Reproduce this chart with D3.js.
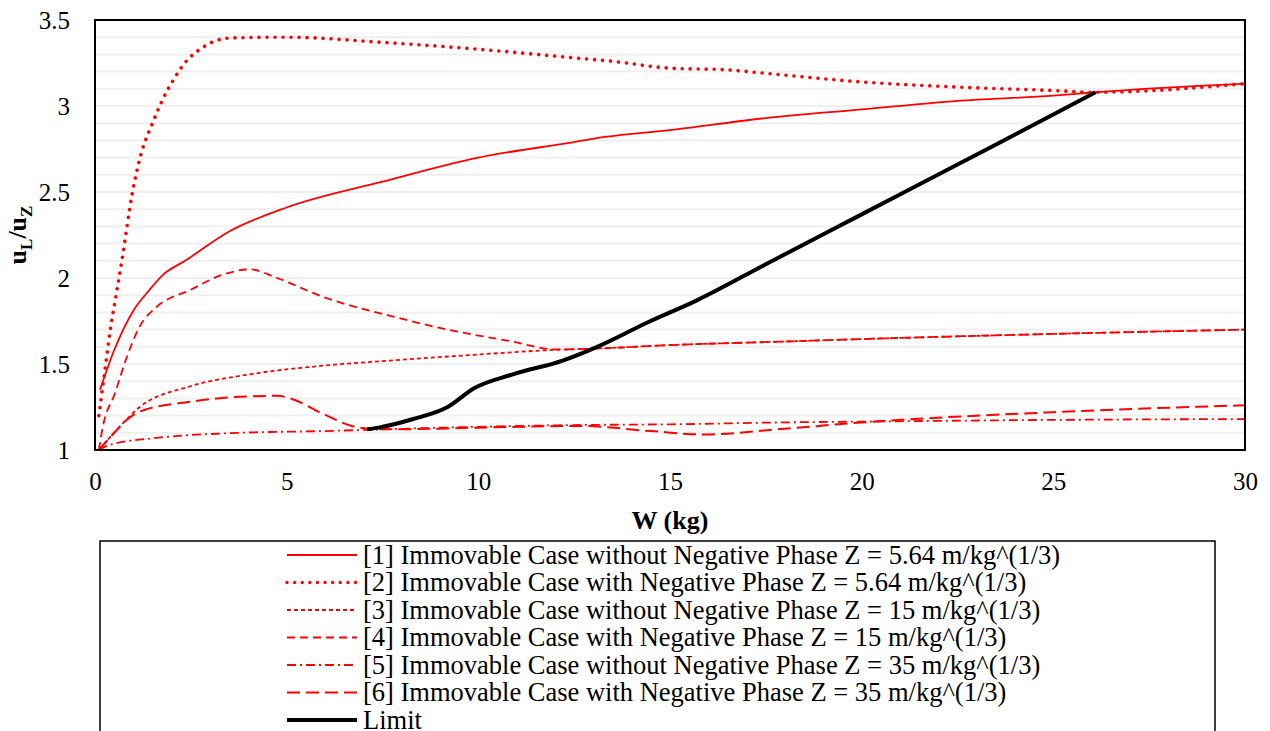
<!DOCTYPE html>
<html>
<head>
<meta charset="utf-8">
<script src="https://cdn.jsdelivr.net/npm/d3@7"></script>
<style>
  body { margin: 0; background: #fff; }
  svg text { font-family: "Liberation Serif", "Times New Roman", serif; fill: #000; }
</style>
</head>
<body>
<svg width="1270" height="731"></svg>
<script>
// tick labels
const xTicks = [0, 5, 10, 15, 20, 25, 30];
const yTicks = [1, 1.5, 2, 2.5, 3, 3.5];

// [1] immovable, no negative phase, Z = 5.64
const s1 = [[0.13,1.35],[0.5,1.58],[1.0,1.81],[1.38,1.92],[1.78,2.02],[2.35,2.10],[3.5,2.27],[5,2.41],[7.5,2.56],[10,2.70],[12.5,2.79],[13.3,2.82],[15,2.86],[17.5,2.93],[20,2.98],[22.5,3.03],[25,3.06],[26.1,3.08],[30,3.13]];
// [2] immovable, with negative phase, Z = 5.64
const s2 = [[0.1,1.2],[0.25,1.45],[0.4,1.7],[0.55,1.9],[0.7,2.1],[0.97,2.49],[1.2,2.72],[1.5,2.9],[1.75,3.03],[2.04,3.15],[2.42,3.27],[2.74,3.33],[3.1,3.375],[3.5,3.395],[5,3.40],[7.5,3.37],[10,3.33],[12.5,3.28],[13.5,3.26],[15,3.22],[16.5,3.21],[17.5,3.19],[20,3.14],[22.5,3.11],[25,3.09],[26.1,3.08],[30,3.13]];
// [3] immovable, no negative phase, Z = 15
const s3 = [[0.1,1.0],[0.5,1.1],[1.17,1.25],[2.48,1.37],[4.04,1.44],[5.95,1.49],[7.7,1.52],[10,1.555],[11.8,1.58],[13.1,1.59],[15,1.61],[17.9,1.63],[20,1.645],[25,1.675],[30,1.70]];
// [4] immovable, with negative phase, Z = 15
const s4 = [[0.1,1.0],[0.2,1.13],[0.52,1.33],[0.83,1.54],[1.17,1.72],[1.6,1.83],[2.48,1.93],[3.34,2.02],[4.04,2.05],[4.75,2.0],[5.95,1.89],[7.7,1.78],[9.2,1.70],[10.9,1.63],[12,1.585],[13.1,1.59],[15,1.61],[17.9,1.63],[20,1.645],[25,1.675],[30,1.70]];
// [5] immovable, no negative phase, Z = 35
const s5 = [[0.1,1.0],[0.39,1.03],[1.6,1.07],[3.8,1.10],[5.95,1.11],[7.5,1.12],[10,1.135],[12.5,1.145],[15.3,1.15],[17.8,1.16],[20,1.165],[25,1.175],[30,1.18]];
// [6] immovable, with negative phase, Z = 35
const s6 = [[0.1,1.0],[0.5,1.1],[0.8,1.17],[1.25,1.23],[2.48,1.28],[3.8,1.31],[4.75,1.315],[5.1,1.30],[5.95,1.21],[6.9,1.13],[7.7,1.12],[10,1.13],[12.65,1.14],[14.5,1.11],[15.9,1.09],[17.8,1.12],[20,1.16],[25,1.22],[30,1.26]];
// limit
const limit = [[7.1,1.12],[7.4,1.13],[8.3,1.18],[9.2,1.25],[9.9,1.36],[10.9,1.44],[12.2,1.52],[13.1,1.60],[14.4,1.74],[15.7,1.87],[17.5,2.08],[20,2.37],[22.5,2.66],[25,2.95],[26.1,3.08]];

const legendLabels = [
  "[1] Immovable Case without Negative Phase Z = 5.64 m/kg^(1/3)",
  "[2] Immovable Case with Negative Phase Z = 5.64 m/kg^(1/3)",
  "[3] Immovable Case without Negative Phase Z = 15 m/kg^(1/3)",
  "[4] Immovable Case with Negative Phase Z = 15 m/kg^(1/3)",
  "[5] Immovable Case without Negative Phase Z = 35 m/kg^(1/3)",
  "[6] Immovable Case with Negative Phase Z = 35 m/kg^(1/3)",
  "Limit"
];

const series = [
  {data: s1, color: "#ff0000", width: 1.8, dash: null},
  {data: s2, color: "#ff0000", width: 3.6, dash: "0.01 8", cap: "round"},
  {data: s3, color: "#ff0000", width: 1.8, dash: "4 3"},
  {data: s4, color: "#ff0000", width: 1.8, dash: "8 5"},
  {data: s5, color: "#ff0000", width: 1.8, dash: "9 4 2 4"},
  {data: s6, color: "#ff0000", width: 2, dash: "13 6"},
  {data: limit, color: "#000000", width: 4, dash: null}
];

const margin = {top: 20, right: 25, bottom: 281, left: 95},
    width = 1270 - margin.left - margin.right,
    height = 731 - margin.top - margin.bottom;

const svg = d3.select("svg");
const g = svg.append("g")
    .attr("transform", "translate(" + margin.left + "," + margin.top + ")");

const x = d3.scaleLinear().domain([0, 30]).range([0, width]);
const y = d3.scaleLinear().domain([1, 3.5]).range([height, 0]);

// minor gridlines every 0.1
g.append("g")
  .selectAll("line")
  .data(d3.range(11, 35).map(d => d / 10))
  .join("line")
    .attr("x1", 0).attr("x2", width)
    .attr("y1", d => y(d)).attr("y2", d => y(d))
    .attr("stroke", "#efefef")
    .attr("stroke-width", 2);

// axes (labels only)
const xAxis = g.append("g")
    .attr("transform", "translate(0," + height + ")")
    .call(d3.axisBottom(x).tickValues(xTicks).tickSize(0).tickPadding(22).tickFormat(d => d));
const yAxis = g.append("g")
    .call(d3.axisLeft(y).tickValues(yTicks).tickSize(0).tickPadding(25).tickFormat(d => d));
[xAxis, yAxis].forEach(a => {
  a.select(".domain").remove();
  a.selectAll("text").style("font-size", "25px");
});

// lines
const line = d3.line()
    .x(d => x(d[0]))
    .y(d => y(d[1]))
    .curve(d3.curveMonotoneX);

series.forEach(s => {
  g.append("path")
    .attr("d", line(s.data))
    .attr("fill", "none")
    .attr("stroke", s.color)
    .attr("stroke-width", s.width)
    .attr("stroke-dasharray", s.dash)
    .attr("stroke-linecap", s.cap || "butt");
});

// plot frame
g.append("rect")
  .attr("width", width).attr("height", height)
  .attr("fill", "none").attr("stroke", "#000").attr("stroke-width", 2);

// axis titles
g.append("text")
  .attr("x", width / 2).attr("y", height + 79)
  .attr("text-anchor", "middle")
  .style("font-size", "26px").style("font-weight", "bold")
  .text("W (kg)");

const yl = g.append("text")
  .attr("transform", "translate(-69," + (height / 2) + ") rotate(-90)")
  .attr("text-anchor", "middle")
  .style("font-size", "26px").style("font-weight", "bold");
yl.append("tspan").text("u");
yl.append("tspan").attr("dy", 6).style("font-size", "17px").text("L");
yl.append("tspan").attr("dy", -6).text("/u");
yl.append("tspan").attr("dy", 6).style("font-size", "17px").text("Z");

// legend
const lg = svg.append("g").attr("transform", "translate(100,541)");
lg.append("rect")
  .attr("width", 1115).attr("height", 200)
  .attr("fill", "#fff").attr("stroke", "#000").attr("stroke-width", 1.5);

const item = lg.selectAll("g.item")
  .data(series)
  .join("g")
    .attr("class", "item")
    .attr("transform", (d, i) => "translate(0," + (14 + i * 27.5) + ")");
item.append("line")
  .attr("x1", 187).attr("x2", 257)
  .attr("stroke", d => d.color)
  .attr("stroke-width", (d, i) => i === 1 ? 3.4 : (i === 6 ? 4 : 1.8))
  .attr("stroke-dasharray", (d, i) => i === 1 ? "0.01 7.6" : d.dash)
  .attr("stroke-linecap", d => d.cap || "butt");
item.append("text")
  .attr("x", 263).attr("y", 8.5)
  .style("font-size", "26.5px")
  .text((d, i) => legendLabels[i]);
</script>
</body>
</html>
